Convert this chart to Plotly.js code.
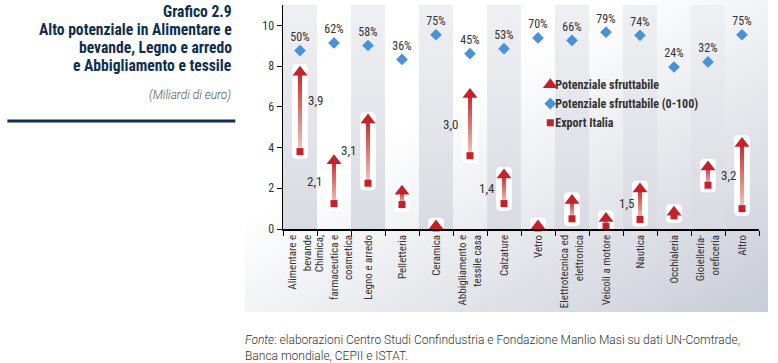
<!DOCTYPE html>
<html>
<head>
<meta charset="utf-8">
<script src="https://cdn.plot.ly/plotly-3.0.1.min.js"></script>
<style>
  html, body { margin: 0; padding: 0; background: #ffffff; }
  #wrap { position: relative; width: 778px; height: 363px; overflow: hidden; }
  #panel { position: absolute; left: 245px; top: 0; width: 523px; height: 312px;
           background: linear-gradient(to bottom right, #ffffff 35%, #c8ccd6 100%); }
  #chart { position: absolute; left: 0; top: 0; width: 778px; height: 363px; }
</style>
</head>
<body>
<div id="wrap">
  <div id="panel"></div>
  <div id="chart"></div>
</div>
<script>
// ---- data ----
const categories = [
  'Alimentare e<br>bevande',
  'Chimica,<br>farmaceutica e<br>cosmetica',
  'Legno e arredo',
  'Pelletteria',
  'Ceramica',
  'Abbigliamento e<br>tessile casa',
  'Calzature',
  'Vetro',
  'Elettrotecnica ed<br>elettronica',
  'Veicoli a motore',
  'Nautica',
  'Occhialeria',
  'Gioielleria-<br>oreficeria',
  'Altro'
];
const exportItalia = [3.8, 1.25, 2.25, 1.2, 0.05, 3.6, 1.25, 0.05, 0.5, 0.12, 0.47, 0.65, 2.15, 1.0];
const potenzialeSfruttabile = [7.7, 3.35, 5.35, 1.85, 0.15, 6.6, 2.65, 0.15, 1.4, 0.52, 1.97, 0.82, 3.05, 4.2];
const potenzialePct = [50, 62, 58, 36, 75, 45, 53, 70, 66, 79, 74, 24, 32, 75];
const gapLabels = ['3,9', '2,1', '3,1', '', '', '3,0', '1,4', '', '', '', '1,5', '', '', '3,2'];
const titleLines = ['Grafico 2.9', 'Alto potenziale in Alimentare e', 'bevande, Legno e arredo', 'e Abbigliamento e tessile'];

// ---- styling ----
const narrow = 'Liberation Sans Narrow, Arial Narrow, Roboto Condensed, Roboto, sans-serif';
const txt = '#333333';
const navy = '#0f2e4f';
const red = '#c4212b';
// horizontal pixel offset of each gap label relative to its arrow (positive = right side)
const gapLabelShift = { 0: 6, 1: -10, 2: -10, 5: -10, 6: -7, 10: -4, 13: -4 };
// pixel helpers for text outside the plot area (plot spans y 5..229)
const py = p => (229 - p) / 224;

const gaps = potenzialeSfruttabile.map((p, i) => p - exportItalia[i]);

const traces = [
  { // white rounded backing boxes
    type: 'bar', x: categories,
    base: exportItalia.map(v => v - 0.35),
    y: gaps.map(g => g + 0.75),
    width: 0.46,
    marker: { color: '#ffffff', cornerradius: 4, line: { width: 0 } },
    hoverinfo: 'skip', showlegend: false
  },
  { // arrow shafts (gradient applied after render)
    type: 'bar', x: categories,
    base: exportItalia, y: gaps,
    width: 0.12,
    marker: { color: '#d9635f', line: { width: 0 } },
    hoverinfo: 'skip', showlegend: false
  },
  {
    type: 'scatter', mode: 'markers', name: 'Potenziale sfruttabile',
    x: categories, y: potenzialeSfruttabile,
    marker: { symbol: 'triangle-up', size: 13, color: red },
    cliponaxis: false
  },
  {
    type: 'scatter', mode: 'markers+text', name: 'Potenziale sfruttabile (0-100)',
    x: categories, y: potenzialePct, yaxis: 'y2',
    text: potenzialePct.map(v => v + '%'),
    textposition: 'top center',
    textfont: { family: narrow, size: 12, color: txt },
    marker: { symbol: 'diamond', size: 9, color: '#4a92d8' },
    cliponaxis: false
  },
  {
    type: 'scatter', mode: 'markers', name: 'Export Italia',
    x: categories, y: exportItalia,
    marker: { symbol: 'square', size: 7, color: red },
    cliponaxis: false
  }
];

const shapes = [];
categories.forEach((c, i) => {
  if (i % 2 === 0) {
    shapes.push({ type: 'rect', xref: 'x', yref: 'y', x0: i - 0.5, x1: i + 0.5, y0: 0, y1: 11,
      fillcolor: '#e4e5ea', line: { width: 0 }, layer: 'below' });
  }
});
shapes.push({ type: 'line', xref: 'paper', yref: 'paper', x0: -0.579, x1: -0.1002, y0: py(121), y1: py(121),
  line: { color: navy, width: 3 }, layer: 'above' });

const annotations = [];
gapLabels.forEach((t, i) => {
  if (!t) return;
  const sh = gapLabelShift[i] || -10;
  const right = sh > 0;
  annotations.push({
    x: categories[i], y: (exportItalia[i] + potenzialeSfruttabile[i]) / 2 + (right ? 0.55 : 0.05),
    text: t, showarrow: false,
    xanchor: right ? 'left' : 'right', xshift: sh,
    font: { family: narrow, size: 13, color: txt }
  });
});
const titleY = [12, 30, 48, 66];
titleLines.forEach((t, k) => {
  annotations.push({
    xref: 'paper', yref: 'paper', x: -0.1044, y: py(titleY[k]), xanchor: 'right', yanchor: 'middle', align: 'right',
    text: '<b>' + t + '</b>', showarrow: false, borderpad: 0,
    font: { family: 'Roboto Condensed, Liberation Sans Narrow, Roboto, sans-serif', size: 15.6, color: navy }
  });
});
annotations.push({
  xref: 'paper', yref: 'paper', x: -0.1044, y: py(95), xanchor: 'right', yanchor: 'middle', align: 'right',
  text: '<i>(Miliardi di euro)</i>', showarrow: false,
  font: { family: 'Roboto, sans-serif', size: 12, color: '#555555', weight: 300 }
});
annotations.push({
  xref: 'paper', yref: 'paper', x: -0.083, y: -0.455, xanchor: 'left', yanchor: 'top', align: 'left',
  text: '<i>Fonte</i>: elaborazioni Centro Studi Confindustria e Fondazione Manlio Masi su dati UN-Comtrade,<br>Banca mondiale, CEPII e ISTAT.',
  showarrow: false,
  font: { family: 'Roboto, sans-serif', size: 12, color: txt, weight: 300 }
});

const layout = {
  width: 778, height: 363,
  margin: { l: 283, r: 19, t: 5, b: 134 },
  paper_bgcolor: 'rgba(0,0,0,0)',
  plot_bgcolor: 'rgba(0,0,0,0)',
  barmode: 'overlay',
  showlegend: true,
  legend: {
    x: 0.488, y: 0.709, xanchor: 'left', yanchor: 'top',
    bgcolor: 'rgba(0,0,0,0)', traceorder: 'normal',
    font: { family: narrow, size: 12, color: txt, weight: 'bold' },
    itemwidth: 30, tracegroupgap: 0
  },
  xaxis: {
    type: 'category', tickangle: -90, showgrid: false, zeroline: false,
    showline: true, linecolor: '#000000', linewidth: 1.5,
    ticks: 'outside', ticklen: 5, tickcolor: '#000000', tickson: 'boundaries',
    tickfont: { family: narrow, size: 11, color: txt },
    range: [-0.5, categories.length - 0.5]
  },
  yaxis: {
    range: [0, 11], tickvals: [0, 2, 4, 6, 8, 10], showgrid: false, zeroline: false,
    showline: true, linecolor: '#000000', linewidth: 1.5,
    ticks: 'outside', ticklen: 5, tickcolor: '#000000',
    tickfont: { family: narrow, size: 12, color: txt }
  },
  yaxis2: { overlaying: 'y', range: [-232, 122], visible: false, showgrid: false, zeroline: false },
  shapes: shapes,
  annotations: annotations,
  font: { family: narrow, color: txt }
};

Plotly.newPlot('chart', traces, layout, { displayModeBar: false, staticPlot: true }).then(gd => {
  const svg = gd.querySelector('.main-svg');
  let defs = svg.querySelector('defs');
  const NS = 'http://www.w3.org/2000/svg';
  function grad(id, stops) {
    const g = document.createElementNS(NS, 'linearGradient');
    g.setAttribute('id', id);
    g.setAttribute('x1', '0'); g.setAttribute('y1', '1');
    g.setAttribute('x2', '0'); g.setAttribute('y2', '0');
    stops.forEach(([o, c]) => {
      const s = document.createElementNS(NS, 'stop');
      s.setAttribute('offset', o); s.setAttribute('stop-color', c);
      g.appendChild(s);
    });
    defs.appendChild(g);
  }
  grad('arrowGrad', [['0', '#efc9c2'], ['1', '#c42a2a']]);
  grad('bandGrad', [['0', '#d9dbe2'], ['1', '#eef0f3']]);
  const barTraces = gd.querySelectorAll('.barlayer .trace');
  if (barTraces[1]) barTraces[1].querySelectorAll('path').forEach(p => { p.style.fill = 'url(#arrowGrad)'; });
  gd.querySelectorAll('.shapelayer path').forEach(p => {
    if (p.style.fill === 'rgb(228, 229, 234)') p.style.fill = 'url(#bandGrad)';
  });
  // bring legend symbols closer to their text, as in the reference
  gd.querySelectorAll('.legend .legendpoints').forEach(g => {
    const t = g.getAttribute('transform') || '';
    g.setAttribute('transform', t + ' translate(15,0)');
  });
});
</script>
</body>
</html>
